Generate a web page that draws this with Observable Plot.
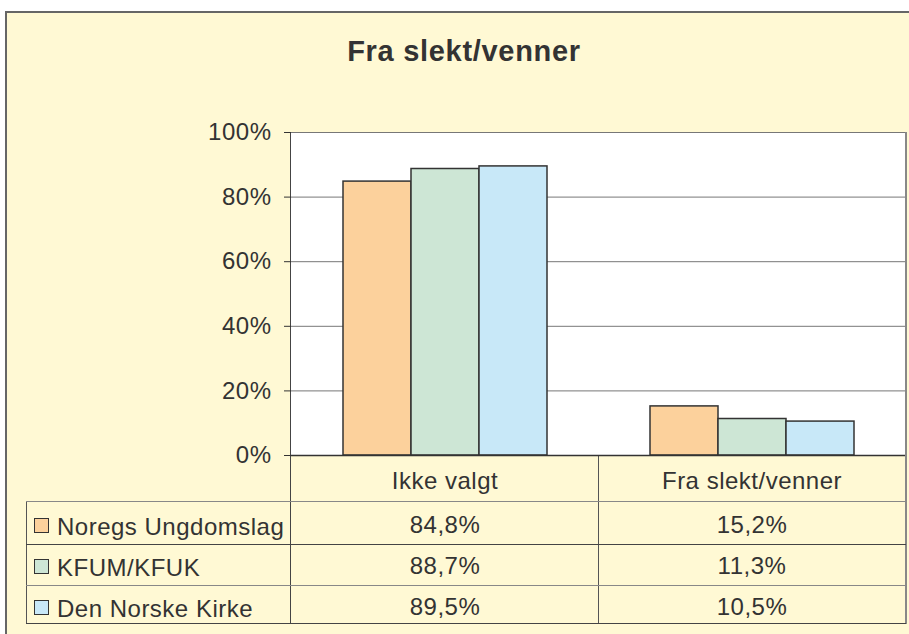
<!DOCTYPE html>
<html>
<head>
<meta charset="utf-8">
<script src="https://cdn.jsdelivr.net/npm/d3@7"></script>
<script src="https://cdn.jsdelivr.net/npm/@observablehq/plot@0.6"></script>
<style>
  html, body { margin: 0; padding: 0; background: #ffffff; }
  #root { position: relative; width: 909px; height: 634px; overflow: hidden; font-family: "Liberation Sans", Arial, sans-serif; color: #333; }
  #frame { position: absolute; left: 5px; top: 11px; width: 1000px; height: 800px; background: #FFF9D4; border-top: 2px solid #666; border-left: 2px solid #666; box-sizing: border-box; }
  #title { position: absolute; left: 5px; width: 918px; top: 31px; text-align: center; font-weight: bold; font-size: 29px; letter-spacing: 0.7px; line-height: 40px; color: #333; }
  #plotbg { position: absolute; left: 290px; top: 132px; width: 615px; height: 323px; background: #fff; }
  .hl, .vl { position: absolute; background: #555; }
  .hl { height: 1px; }
  .vl { width: 1px; }
  .lab { position: absolute; left: 57px; height: 28px; line-height: 28px; font-size: 24px; letter-spacing: 0.5px; white-space: nowrap; color: #333; }
  .sw { position: absolute; left: 34px; width: 13px; height: 13px; border: 1.5px solid #333; }
  #chart { position: absolute; left: 0; top: 0; }
  #chart svg text { letter-spacing: 0.5px; }
</style>
</head>
<body>
<div id="root">
  <div id="frame"></div>
  <div id="plotbg"></div>
  <div id="lines"></div>
  <div id="title">Fra slekt/venner</div>
  <div id="labels"></div>
  <div id="chart"></div>
</div>
<script>
// ---- data ----
const categories = ["Ikke valgt", "Fra slekt/venner"];
const seriesNames = ["Noregs Ungdomslag", "KFUM/KFUK", "Den Norske Kirke"];
const noregsUngdomslag = [84.8, 15.2];
const kfumKfuk = [88.7, 11.3];
const denNorskeKirke = [89.5, 10.5];
const yTicks = [0, 20, 40, 60, 80, 100];
const seriesColors = ["#FCD19C", "#CDE6D5", "#C8E8F8"];

const seriesValues = [noregsUngdomslag, kfumKfuk, denNorskeKirke];
const rows = [];
seriesNames.forEach((s, j) => categories.forEach((c, i) => rows.push({category: c, series: s, value: seriesValues[j][i]})));
const fmt = v => v.toFixed(1).replace(".", ",") + "%";

// ---- table layout (styling) ----
const rowLines = [501, 543.5, 585, 623];
const rowCenters = [526, 567, 608];
const zeroY = 455;

const lines = document.getElementById("lines");
function hline(x1, x2, y, color) {
  const d = document.createElement("div"); d.className = "hl";
  d.style.left = x1 + "px"; d.style.width = (x2 - x1 + 1) + "px"; d.style.top = Math.round(y) + "px";
  if (color) d.style.background = color; lines.appendChild(d);
}
function vline(x, y1, y2, color, w) {
  const d = document.createElement("div"); d.className = "vl";
  d.style.left = x + "px"; d.style.top = y1 + "px"; d.style.height = (y2 - y1 + 1) + "px";
  if (color) d.style.background = color; if (w) d.style.width = w + "px"; lines.appendChild(d);
}
hline(290, 905, 132, "#777");
vline(290, 132, 623, "#444");
vline(598, 455, 623, "#555");
vline(905, 132, 623, "#888", 2);
vline(26, 501, 623, "#555");
rowLines.forEach((y, k) => hline(26, 905, y, k % 2 === 0 ? "#888" : "#444"));

const labels = document.getElementById("labels");
seriesNames.forEach((s, j) => {
  const sw = document.createElement("div"); sw.className = "sw";
  sw.style.top = (rowCenters[j] - 8) + "px"; sw.style.background = seriesColors[j];
  labels.appendChild(sw);
  const t = document.createElement("div"); t.className = "lab";
  t.style.top = (rowCenters[j] - 13) + "px"; t.textContent = s;
  labels.appendChild(t);
});

// ---- chart ----
const chart = Plot.plot({
  width: 909,
  height: 634,
  marginTop: 132,
  marginBottom: 634 - zeroY,
  marginLeft: 290,
  marginRight: 4,
  style: {background: "transparent", fontFamily: "'Liberation Sans', Arial, sans-serif", fontSize: "24px", color: "#333"},
  fx: {domain: categories, padding: 0, label: null},
  x: {domain: seriesNames, paddingInner: 0, paddingOuter: 0.739, axis: null},
  y: {domain: [0, 100], label: null},
  color: {domain: seriesNames, range: seriesColors},
  marks: [
    Plot.gridY(yTicks, {stroke: "#777", strokeOpacity: 1}),
    Plot.axisY(yTicks, {tickFormat: d => d + "%", tickSize: 7, tickPadding: 13, label: null, stroke: "#333"}),
    Plot.axisFx({anchor: "bottom", tickSize: 0, tickPadding: 16, label: null}),
    Plot.barY(rows, {fx: "category", x: "series", y: "value", fill: "series", stroke: "#333", strokeWidth: 1.5}),
    Plot.ruleY([0], {stroke: "#333", strokeWidth: 1.5}),
    ...seriesNames.map((s, j) => Plot.text(rows.filter(r => r.series === s), {
      fx: "category", text: r => fmt(r.value), frameAnchor: "bottom", dy: rowCenters[j] - zeroY + 6, fontSize: 24, fill: "#333"
    }))
  ]
});
document.getElementById("chart").appendChild(chart);
</script>
</body>
</html>
